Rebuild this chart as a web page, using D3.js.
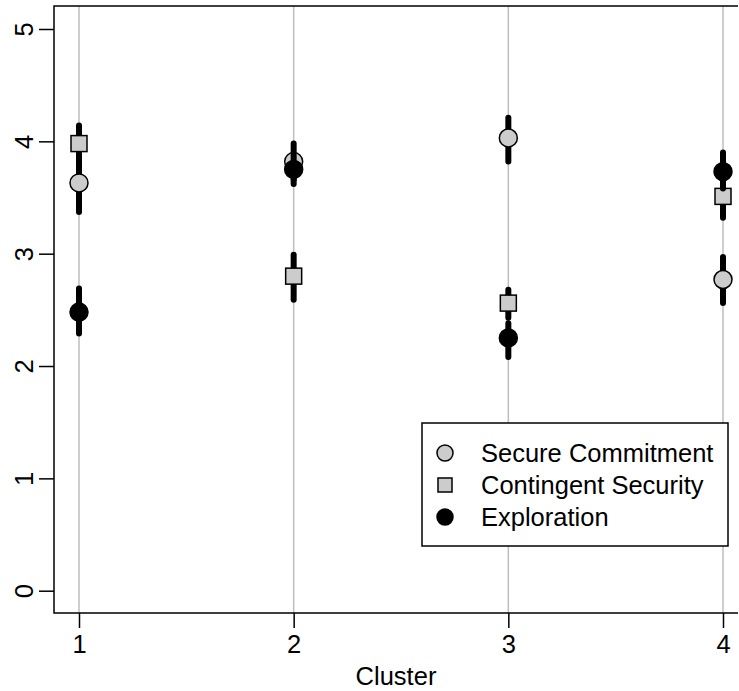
<!DOCTYPE html>
<html>
<head>
<meta charset="utf-8">
<script src="https://cdn.jsdelivr.net/npm/d3@7"></script>
<style>
  body { margin: 0; background: #fff; }
  text { font-family: "Liberation Sans", Arial, sans-serif; }
</style>
</head>
<body>
<svg id="chart" width="739" height="691"></svg>
<script>
// ---- data ----
const clusters = [1, 2, 3, 4];
const seriesNames = ["Secure Commitment", "Contingent Security", "Exploration"];
const secureMean = [3.63, 3.82, 4.03, 2.77];
const secureLo   = [3.37, 3.66, 3.82, 2.56];
const secureHi   = [3.90, 3.98, 4.21, 2.97];
const contMean   = [3.98, 2.80, 2.56, 3.51];
const contLo     = [3.82, 2.59, 2.43, 3.32];
const contHi     = [4.14, 2.99, 2.68, 3.68];
const explMean   = [2.48, 3.75, 2.25, 3.73];
const explLo     = [2.29, 3.62, 2.08, 3.58];
const explHi     = [2.69, 3.88, 2.38, 3.90];
const yTicks = [0, 1, 2, 3, 4, 5];

// ---- layout ----
const plotLeft = 54, plotRight = 738, plotTop = 6, plotBottom = 613;
const fontSize = 25.5;

const x = d3.scaleLinear().domain([1, 4]).range([79, 723]);
const y = d3.scaleLinear().domain([0, 5]).range([590.7, 29]);

const svg = d3.select('#chart');

// vertical grey guide lines
svg.selectAll('line.grid')
  .data(clusters)
  .enter()
  .append('line')
  .attr('class', 'grid')
  .attr('x1', d => x(d)).attr('x2', d => x(d))
  .attr('y1', plotTop).attr('y2', plotBottom)
  .attr('stroke', '#bebebe')
  .attr('stroke-width', 1.5);

// plot box (left, top, bottom)
svg.append('path')
  .attr('d', `M${plotRight},${plotTop}H${plotLeft}V${plotBottom}H${plotRight}`)
  .attr('fill', 'none')
  .attr('stroke', '#000')
  .attr('stroke-width', 1.5);

// y axis
const yAxis = d3.axisLeft(y).tickValues(yTicks).tickSize(15).tickSizeOuter(0).tickFormat(d3.format('d'));
const gy = svg.append('g')
  .attr('transform', `translate(${plotLeft},0)`)
  .call(yAxis);
gy.select('.domain').remove();
gy.selectAll('line').attr('stroke-width', 1.5);
gy.selectAll('text')
  .attr('font-size', fontSize)
  .attr('fill', '#000')
  .attr('text-anchor', 'middle')
  .attr('dy', 0)
  .attr('x', 0)
  .attr('transform', 'translate(-21,0) rotate(-90)');

// x axis
const xAxis = d3.axisBottom(x).tickValues(clusters).tickSize(15).tickSizeOuter(0).tickFormat(d3.format('d'));
const gx = svg.append('g')
  .attr('transform', `translate(0,${plotBottom})`)
  .call(xAxis);
gx.select('.domain').remove();
gx.selectAll('line').attr('stroke-width', 1.5);
gx.selectAll('text')
  .attr('font-size', fontSize)
  .attr('fill', '#000')
  .attr('dy', 0)
  .attr('y', 40);

svg.append('text')
  .text('Cluster')
  .attr('x', (plotLeft + plotRight) / 2)
  .attr('y', 685)
  .attr('text-anchor', 'middle')
  .attr('font-size', fontSize);

// series: bars then markers, one series at a time
const series = [
  { name: seriesNames[0], mean: secureMean, lo: secureLo, hi: secureHi, shape: 'circle', fill: '#cccccc' },
  { name: seriesNames[1], mean: contMean,   lo: contLo,   hi: contHi,   shape: 'square', fill: '#cccccc' },
  { name: seriesNames[2], mean: explMean,   lo: explLo,   hi: explHi,   shape: 'circle', fill: '#000000' }
];

function drawMarker(g, shape, fill, cx, cy, size) {
  if (shape === 'circle') {
    g.append('circle')
      .attr('cx', cx).attr('cy', cy).attr('r', size)
      .attr('fill', fill).attr('stroke', '#000').attr('stroke-width', 1.5);
  } else {
    g.append('rect')
      .attr('x', cx - size).attr('y', cy - size)
      .attr('width', size * 2).attr('height', size * 2)
      .attr('fill', fill).attr('stroke', '#000').attr('stroke-width', 1.5);
  }
}

series.forEach(s => {
  const g = svg.append('g');
  clusters.forEach((c, i) => {
    g.append('line')
      .attr('x1', x(c)).attr('x2', x(c))
      .attr('y1', y(s.lo[i])).attr('y2', y(s.hi[i]))
      .attr('stroke', '#000')
      .attr('stroke-width', 6)
      .attr('stroke-linecap', 'round');
    drawMarker(g, s.shape, s.fill, x(c), y(s.mean[i]), s.shape === 'circle' ? 9 : 8);
  });
});

// legend
const legend = svg.append('g');
legend.append('rect')
  .attr('x', 422).attr('y', 423)
  .attr('width', 306).attr('height', 123)
  .attr('fill', '#fff').attr('stroke', '#000').attr('stroke-width', 1.5);
series.forEach((s, i) => {
  const ly = 453 + i * 32;
  drawMarker(legend, s.shape, s.fill, 445, ly, s.shape === 'circle' ? 8 : 7);
  legend.append('text')
    .text(s.name)
    .attr('x', 481)
    .attr('y', ly + 9)
    .attr('font-size', fontSize);
});
</script>
</body>
</html>
